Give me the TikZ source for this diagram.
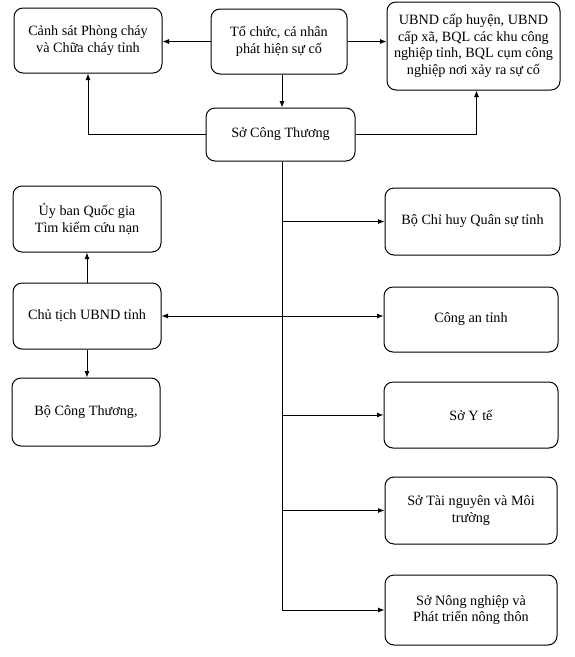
\documentclass[tikz,border=0pt]{standalone}
\usepackage{fontspec}
\setmainfont{Liberation Serif}
\usetikzlibrary{arrows.meta}
\begin{document}
\begin{tikzpicture}[x=1pt,y=-1pt,
  box/.style={draw,line width=1pt,rounded corners=9pt,align=center,inner sep=0pt,
    font=\fontsize{14.2}{16.6}\selectfont},
  conn/.style={line width=0.9pt},
  arr/.style={conn,-{Latex[length=6.5pt,width=5pt]}},
  darr/.style={conn,{Latex[length=6.5pt,width=5pt]}-{Latex[length=6.5pt,width=5pt]}}]
\useasboundingbox (0,0) rectangle (575,657);
\node[box,minimum width=148pt,minimum height=65pt] (canhsat) at (88,40.5) {Cảnh sát Phòng cháy\\và Chữa cháy tỉnh};
\node[box,minimum width=136pt,minimum height=65pt] (tochuc) at (279,41.5) {Tổ chức, cá nhân\\phát hiện sự cố};
\node[box,minimum width=173pt,minimum height=88pt] (ubnd) at (473.5,46) {UBND cấp huyện, UBND\\cấp xã, BQL các khu công\\nghiệp tỉnh, BQL cụm công\\nghiệp nơi xảy ra sự cố};
\node[box,minimum width=149pt,minimum height=53pt] (soct) at (280.5,134.5) {Sở Công Thương};
\node[box,minimum width=148pt,minimum height=66pt] (uyban) at (87,219) {Ủy ban Quốc gia\\Tìm kiếm cứu nạn};
\node[box,minimum width=148pt,minimum height=66pt] (chutich) at (87,316) {Chủ tịch UBND tỉnh};
\node[box,minimum width=148pt,minimum height=68pt] (boct) at (86,412) {Bộ Công Thương,};
\node[box,minimum width=175pt,minimum height=67pt] (chihuy) at (472.5,221.5) {Bộ Chỉ huy Quân sự tỉnh};
\node[box,minimum width=174pt,minimum height=65pt] (congan) at (471,319.5) {Công an tỉnh};
\node[box,minimum width=174pt,minimum height=66pt] (syte) at (471,415) {Sở Y tế};
\node[box,minimum width=172pt,minimum height=67pt] (tainguyen) at (471,510.5) {Sở Tài nguyên và Môi\\trường};
\node[box,minimum width=172pt,minimum height=70pt] (nongnghiep) at (471,610) {Sở Nông nghiệp và\\Phát triển nông thôn};
\coordinate (tx) at (282,0);
\coordinate (trunkend) at (tx |- nongnghiep.west);
% top connections
\draw[arr] (tochuc.west) -- (tochuc.west -| canhsat.east);
\draw[arr] (tochuc.east) -- (tochuc.east -| ubnd.west);
\draw[arr] (tochuc.south -| tx) -- (soct.north -| tx);
\draw[arr] (soct.west) -| (canhsat.south);
\draw[arr] (soct.east) -| ([xshift=3pt]ubnd.south);
% trunk
\draw[conn] (soct.south -| tx) -- (trunkend);
\draw[arr] (tx |- chihuy.west) -- (chihuy.west);
\draw[arr] (tx |- syte.west) -- (syte.west);
\draw[arr] (tx |- tainguyen.west) -- (tainguyen.west);
\draw[arr] (trunkend) -- (nongnghiep.west);
\draw[darr] (chutich.east) -- (chutich.east -| congan.west);
% left column
\draw[arr] (chutich.north) -- (uyban.south);
\draw[arr] (chutich.south) -- (chutich.south |- boct.north);
\end{tikzpicture}
\end{document}
